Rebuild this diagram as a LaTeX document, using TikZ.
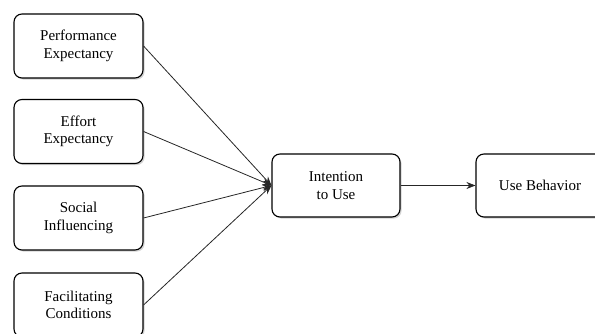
\documentclass[tikz,border=0pt]{standalone}
\usepackage{fontspec}
\setmainfont{Liberation Serif}
\usetikzlibrary{shadows,arrows.meta}
\begin{document}
\begin{tikzpicture}[x=1pt,y=1pt,
  box/.style={draw=black, line width=1.1pt, rounded corners=8pt, fill=white,
    minimum width=129pt, minimum height=64pt, inner sep=0pt, align=center,
    font=\fontsize{15}{17.5}\selectfont,
    drop shadow={shadow xshift=1.6pt, shadow yshift=-1.6pt, opacity=0.35, fill=gray}},
  conn/.style={draw=black!85, line width=0.8pt, -{Stealth[length=9pt,width=7pt]}}]
\clip (0,0) rectangle (595,334);
\useasboundingbox (0,0) rectangle (595,334);
\node[box] (pe) at (78.5,288) {Performance\\Expectancy};
\node[box] (ee) at (78.5,202.5) {Effort\\Expectancy};
\node[box] (si) at (78.5,116) {Social\\Influencing};
\node[box] (fc) at (78.5,29) {Facilitating\\Conditions};
\node[box, minimum width=128pt, minimum height=63pt] (iu) at (336,148.5) {Intention\\to Use};
\node[box, minimum width=128pt, minimum height=63pt] (ub) at (540,148.5) {Use Behavior};
\draw[conn] (pe.east) -- (iu.west);
\draw[conn] (ee.east) -- (iu.west);
\draw[conn] (si.east) -- (iu.west);
\draw[conn] (fc.east) -- (iu.west);
\draw[conn] (iu.east) -- (ub.west);
\end{tikzpicture}
\end{document}
